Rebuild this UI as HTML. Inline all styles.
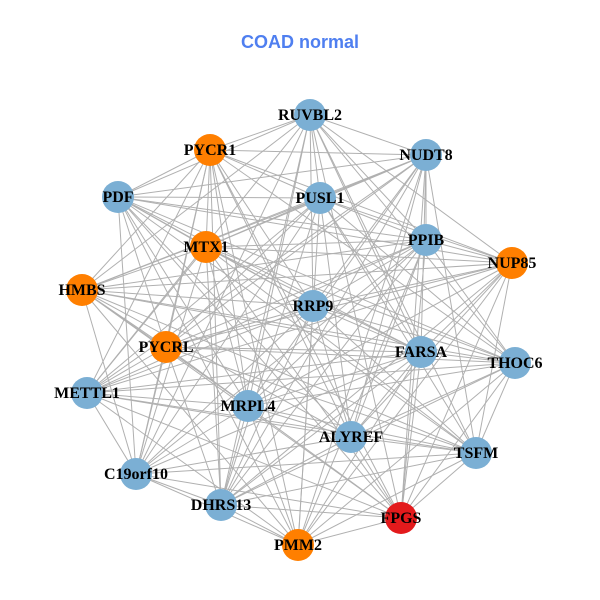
<!DOCTYPE html>
<html><head><meta charset="utf-8"><style>body{margin:0;background:#fff}svg{display:block}</style></head>
<body>
<svg id="s" width="600" height="600" xmlns="http://www.w3.org/2000/svg">
<rect width="600" height="600" fill="#fff"/>
<text x="300" y="48" text-anchor="middle" font-family="Liberation Sans, sans-serif" font-weight="bold" font-size="18" fill="#4f7ff0">COAD normal</text>
<g id="e" stroke="#b0b0b0" stroke-width="1"></g>
<g id="n"></g>
</svg>
<script>
var N=[["RUVBL2",310,115,0],["PYCR1",210,150,1],["NUDT8",426,155,0],["PDF",118,197,0],["PUSL1",320,198,0],["MTX1",206,247,1],["PPIB",426,240,0],["NUP85",512,263,1],["HMBS",82,290,1],["RRP9",313,306,0],["PYCRL",166,347,1],["FARSA",421,352,0],["THOC6",515,363,0],["METTL1",87,393,0],["MRPL4",248,406,0],["ALYREF",351,437,0],["TSFM",476,453,0],["C19orf10",136,474,0],["DHRS13",221,505,0],["FPGS",401,518,2],["PMM2",298,545,1]];
var C=["#7bafd4","#ff7f00","#e31a1c"];
var ns="http://www.w3.org/2000/svg",e=document.getElementById("e"),g=document.getElementById("n");
for(var i=0;i<N.length;i++)for(var j=i+1;j<N.length;j++){
 if((i*7+j*3)%5==0)continue;
 var l=document.createElementNS(ns,"line");l.setAttribute("x1",N[i][1]);l.setAttribute("y1",N[i][2]);l.setAttribute("x2",N[j][1]);l.setAttribute("y2",N[j][2]);e.appendChild(l);}
N.forEach(function(d){var c=document.createElementNS(ns,"circle");c.setAttribute("cx",d[1]);c.setAttribute("cy",d[2]);c.setAttribute("r",16);c.setAttribute("fill",C[d[3]]);g.appendChild(c);});
N.forEach(function(d){var t=document.createElementNS(ns,"text");t.setAttribute("x",d[1]);t.setAttribute("y",d[2]+5);t.setAttribute("text-anchor","middle");t.setAttribute("font-family","Liberation Serif, serif");t.setAttribute("font-weight","bold");t.setAttribute("font-size","16");t.textContent=d[0];g.appendChild(t);});
</script>
</body></html>
